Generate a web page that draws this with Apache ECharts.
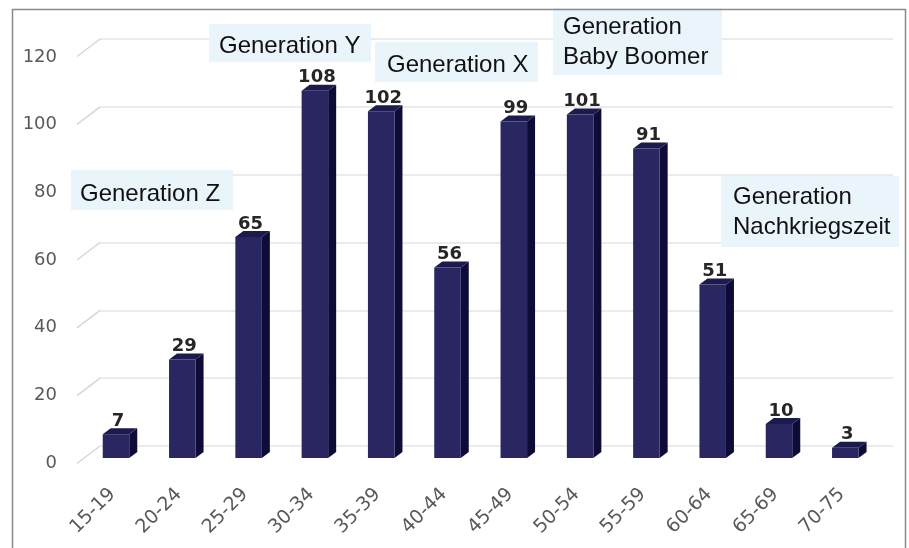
<!DOCTYPE html>
<html><head><meta charset="utf-8">
<script src="https://cdn.jsdelivr.net/npm/echarts@6/dist/echarts.min.js"></script>
<style>html,body{margin:0;padding:0;background:#fff}#c{width:909px;height:548px}</style>
</head><body><div id="c"></div><script>
const categories = ['15-19','20-24','25-29','30-34','35-39','40-44','45-49','50-54','55-59','60-64','65-69','70-75'];
const values = [7, 29, 65, 108, 102, 56, 99, 101, 91, 51, 10, 3];
const yMin = 0, yMax = 120, yStep = 20;
const gridTicks = [0, 20, 40, 60, 80, 100, 120];
const generationLabels = ['Generation Z', 'Generation Y', 'Generation X', 'Generation\nBaby Boomer', 'Generation\nNachkriegszeit'];

const chart = echarts.init(document.getElementById('c'), null, {renderer: 'canvas'});

const DX = 8, DY = 6;
function renderBar(params, api) {
  const i = api.value(0), v = api.value(1);
  const base = api.coord([i, 0]);
  const top = api.coord([i, v]);
  const w = api.size([1, 0])[0] * 0.4;
  const x0 = base[0] - w / 2, x1 = base[0] + w / 2;
  return {type: 'group', children: [
    {type: 'polygon', shape: {points: [[x1, top[1]], [x1 + DX, top[1] - DY], [x1 + DX, base[1] - DY], [x1, base[1]]]}, style: {fill: '#0e0b36'}},
    {type: 'polygon', shape: {points: [[x0, top[1]], [x0 + DX, top[1] - DY], [x1 + DX, top[1] - DY], [x1, top[1]]]}, style: {fill: '#1d1a50'}},
    {type: 'rect', shape: {x: x0, y: top[1], width: w, height: base[1] - top[1]}, style: {fill: '#2a2662'}},
    {type: 'text', style: {text: String(v), x: base[0] + 2, y: top[1] - 4, align: 'center', verticalAlign: 'bottom', textAlign: 'center', textVerticalAlign: 'bottom', font: 'bold 18px "DejaVu Sans"', fill: '#262626'}}
  ]};
}
function renderConnector(params, api) {
  const p = api.coord([0, api.value(1)]);
  return {type: 'line', shape: {x1: p[0] - 23, y1: p[1] + 17.5, x2: p[0], y2: p[1]}, style: {stroke: '#d6d6d6', lineWidth: 1.5}};
}

function box(x, y, w, h, text, tx, ty) {
  return [
    {type: 'rect', left: x, top: y, shape: {width: w, height: h}, style: {fill: '#e9f4fb'}, z: 10},
    {type: 'text', left: tx, top: ty, style: {text: text, font: '24px "Liberation Sans", Arial', fill: '#111111', lineHeight: 30}, z: 11}
  ];
}

const option = {
  backgroundColor: '#ffffff',
  animation: false,
  grid: [
    {left: 82.85, right: 30.55, top: 50, bottom: 90},
    {left: 77, right: 30, top: 57, bottom: 85},
    {left: 100, right: 16, top: 39, bottom: 102}
  ],
  xAxis: [
    {type: 'category', gridIndex: 0, data: categories, boundaryGap: true,
     axisLine: {show: false}, axisTick: {show: false},
     axisLabel: {rotate: 45, interval: 0, margin: 30, padding: [0, 5, 0, 0], color: '#595959', fontSize: 19, fontFamily: 'DejaVu Sans'}},
    {type: 'value', gridIndex: 1, min: 0, max: 1, show: false},
    {type: 'value', gridIndex: 2, min: 0, max: 1, show: false}
  ],
  yAxis: [
    {type: 'value', gridIndex: 0, min: yMin, max: yMax, interval: yStep, show: false},
    {type: 'value', gridIndex: 1, min: yMin, max: yMax, interval: yStep,
     axisLine: {show: false}, axisTick: {show: false}, splitLine: {show: false},
     axisLabel: {margin: 20, color: '#595959', fontSize: 18, fontFamily: 'DejaVu Sans'}},
    {type: 'value', gridIndex: 2, min: yMin, max: yMax, interval: yStep,
     axisLine: {show: false}, axisTick: {show: false}, axisLabel: {show: false},
     splitLine: {show: true, lineStyle: {color: '#e4e4e4', width: 1.5}}}
  ],
  series: [
    {type: 'custom', xAxisIndex: 2, yAxisIndex: 2, data: gridTicks.map(t => [0, t]), renderItem: renderConnector, clip: false, silent: true, z: 1},
    {type: 'custom', xAxisIndex: 0, yAxisIndex: 0, data: values.map((v, i) => [i, v]), renderItem: renderBar, clip: false, z: 5}
  ],
  graphic: [
    {type: 'rect', left: 10, top: 7, shape: {width: 893, height: 560}, style: {fill: 'none', stroke: '#8a8a8a', lineWidth: 1.5}, z: 20},
    ...box(71, 170, 162, 40, generationLabels[0], 80, 179),
    ...box(209, 24, 162, 38, generationLabels[1], 219, 31),
    ...box(375, 42, 163, 40, generationLabels[2], 387, 50),
    ...box(553, 8, 169, 67, generationLabels[3], 563, 12),
    ...box(721, 176, 178, 71, generationLabels[4], 733, 182)
  ]
};
chart.setOption(option);
</script></body></html>
